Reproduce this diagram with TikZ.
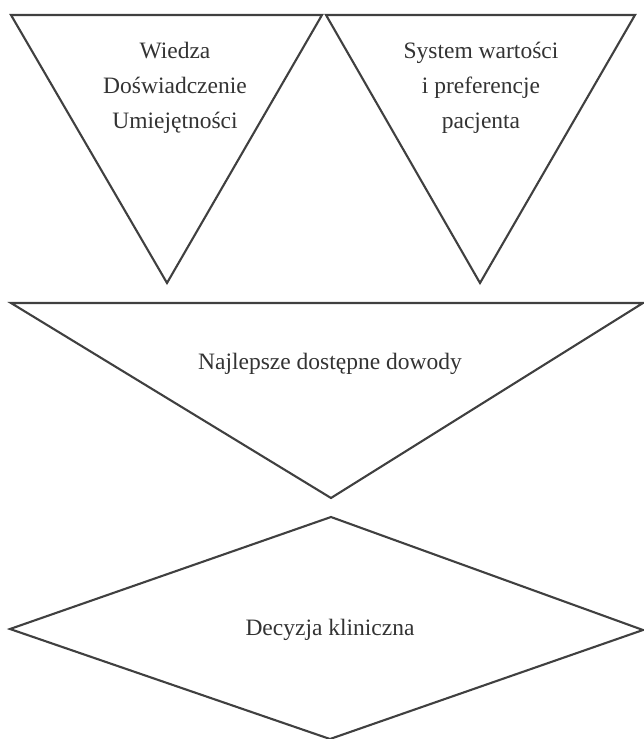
\documentclass[tikz,border=0pt]{standalone}
\usepackage{fontspec}
\setmainfont{Liberation Serif}
\begin{document}
\begin{tikzpicture}[x=1pt,y=-1pt,
  shapeline/.style={draw=black!75,line width=2.1pt,line join=miter},
  lbl/.style={align=center,text=black!80,font=\fontsize{23.5}{35}\selectfont,inner sep=0pt}]
\useasboundingbox (0,0) rectangle (644,739);
% left triangle
\coordinate (a1) at (11,15);
\coordinate (a2) at (322,15);
\coordinate (a3) at (167,283);
\draw[shapeline] (a1) -- (a2) -- (a3) -- cycle;
% right triangle
\coordinate (b1) at (326,15);
\coordinate (b2) at (635,15);
\coordinate (b3) at (480,283);
\draw[shapeline] (b1) -- (b2) -- (b3) -- cycle;
% big triangle
\coordinate (c1) at (11,303);
\coordinate (c2) at (643,303);
\coordinate (c3) at (331,498);
\draw[shapeline] (c1) -- (c2) -- (c3) -- cycle;
% diamond
\coordinate (d1) at (331,517);
\coordinate (d2) at (643,630);
\coordinate (d3) at (330,739);
\coordinate (d4) at (10,629);
\draw[shapeline] (d1) -- (d2) -- (d3) -- (d4) -- cycle;
% labels
\node[lbl] (ta) at (175,88) {Wiedza\\Doświadczenie\\Umiejętności};
\node[lbl] (tb) at (481,88) {System wartości\\i preferencje\\pacjenta};
\node[lbl] (tc) at (330,364) {Najlepsze dostępne dowody};
\node[lbl] (td) at (330,630) {Decyzja kliniczna};
\end{tikzpicture}
\end{document}
